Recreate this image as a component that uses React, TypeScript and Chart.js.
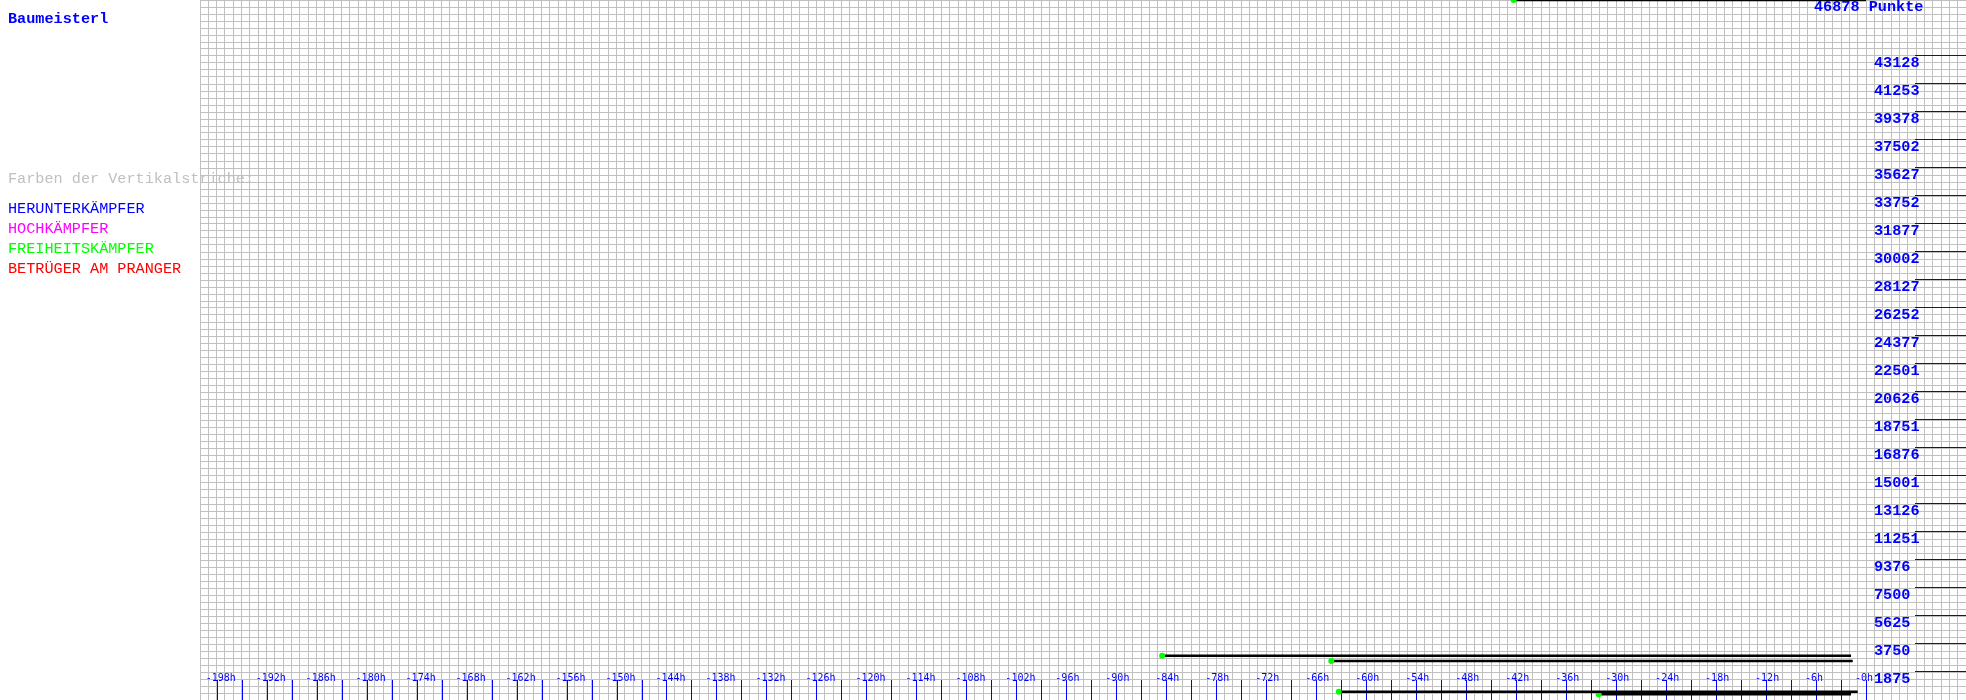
import React, { useEffect, useRef } from 'react';
import { Chart, registerables } from 'chart.js';

Chart.register(...registerables);

// ---- data ----
const pointsMax = 46878;
const hourMin = -200;
const hourMax = 12;

const xTickHours = [-198, -192, -186, -180, -174, -168, -162, -156, -150, -144, -138, -132, -126, -120, -114, -108, -102, -96, -90, -84, -78, -72, -66, -60, -54, -48, -42, -36, -30, -24, -18, -12, -6, 0];
const xTickLabels = ['-198h', '-192h', '-186h', '-180h', '-174h', '-168h', '-162h', '-156h', '-150h', '-144h', '-138h', '-132h', '-126h', '-120h', '-114h', '-108h', '-102h', '-96h', '-90h', '-84h', '-78h', '-72h', '-66h', '-60h', '-54h', '-48h', '-42h', '-36h', '-30h', '-24h', '-18h', '-12h', '-6h', '-0h'];
const xMarkStep = 3;

const yTickValues = [1875, 3750, 5625, 7500, 9376, 11251, 13126, 15001, 16876, 18751, 20626, 22501, 24377, 26252, 28127, 30002, 31877, 33752, 35627, 37502, 39378, 41253, 43128];

const segStartHours = [-42.3, -84.5, -64.2, -63.3, -32.1];
const segEndHours = [0, -1.8, -1.6, -1.0, -1.8];
const segValues = [46878, 2967, 2612, 556, 382];

const playerName = 'Baumeisterl';
const legendTitle = 'Farben der Vertikalstriche:';
const legendLabels = ['HERUNTERKÄMPFER', 'HOCHKÄMPFER', 'FREIHEITSKÄMPFER', 'BETRÜGER AM PRANGER'];
const legendColors = ['#0000ff', '#ff00ff', '#00ff00', '#ff0000'];
const topLabel = '46878 Punkte';

const BLUE = '#0000ff';
const GRID = '#c0c0c0';
const MONO = '"Liberation Mono", "DejaVu Sans Mono", monospace';
const TEXT_PX = 15.2;

const overlayPlugin = {
  id: 'overlay',
  beforeDatasetsDraw(chart: any) {
    const { ctx, chartArea, scales } = chart;
    const xs = scales.x;
    const ys = scales.y;
    ctx.save();
    // tick marks every 3h
    ctx.strokeStyle = BLUE;
    ctx.lineWidth = 1;
    for (let h = xTickHours[0]; h <= xTickHours[xTickHours.length - 1]; h += xMarkStep) {
      const px = Math.round(xs.getPixelForValue(h)) + 0.5;
      ctx.beginPath();
      ctx.moveTo(px, chartArea.bottom - 20);
      ctx.lineTo(px, chartArea.bottom);
      ctx.stroke();
    }
    // x labels
    ctx.fillStyle = BLUE;
    ctx.font = '10px "DejaVu Sans Mono", monospace';
    ctx.textAlign = 'left';
    ctx.textBaseline = 'alphabetic';
    xTickHours.forEach((h, i) => {
      ctx.fillText(xTickLabels[i], xs.getPixelForValue(h) - 11, chartArea.bottom - 19);
    });
    // y labels and right segments
    ctx.font = 'bold ' + TEXT_PX + 'px ' + MONO;
    yTickValues.forEach((v) => {
      const py = ys.getPixelForValue(v);
      const ly = Math.round(py) - 0.5;
      ctx.beginPath();
      ctx.moveTo(chartArea.right - 51, ly);
      ctx.lineTo(chartArea.right, ly);
      ctx.stroke();
      ctx.fillText(String(v), chartArea.right - 92, py + 11.3);
    });
    ctx.restore();
  },
  afterDraw(chart: any) {
    const { ctx, chartArea } = chart;
    ctx.save();
    ctx.textAlign = 'left';
    ctx.textBaseline = 'alphabetic';
    ctx.font = 'bold ' + TEXT_PX + 'px ' + MONO;
    ctx.fillStyle = BLUE;
    ctx.fillText(topLabel, chartArea.right - 152, 11);
    ctx.fillText(playerName, 8, 23);
    ctx.font = TEXT_PX + 'px ' + MONO;
    ctx.fillStyle = GRID;
    ctx.fillText(legendTitle, 8, 183);
    legendLabels.forEach((t, i) => {
      ctx.fillStyle = legendColors[i];
      ctx.fillText(t, 8, 213 + i * 20);
    });
    ctx.restore();
  },
};

export default function App() {
  const ref = useRef<HTMLCanvasElement>(null);
  useEffect(() => {
    document.body.style.margin = '0';
    document.body.style.overflow = 'hidden';
    const canvas = ref.current as HTMLCanvasElement;
    const datasets = segValues.map((v, i) => ({
      data: [
        { x: segStartHours[i], y: v },
        { x: segEndHours[i], y: v },
      ],
      borderColor: '#000000',
      borderWidth: 2.5,
      pointRadius: [3, 0],
      pointHoverRadius: 0,
      pointBackgroundColor: '#00ff00',
      pointBorderColor: '#00ff00',
      pointBorderWidth: 0,
      fill: false,
      tension: 0,
      clip: false,
    }));
    const chart = new Chart(canvas, {
      type: 'line',
      data: { datasets },
      options: {
        responsive: false,
        animation: false,
        devicePixelRatio: 1,
        events: [],
        layout: { autoPadding: false, padding: { left: 200, right: 0, top: 0, bottom: 0 } },
        plugins: { legend: { display: false }, tooltip: { enabled: false }, title: { display: false } },
        scales: {
          x: {
            type: 'linear',
            min: hourMin,
            max: hourMax,
            ticks: { display: false, stepSize: 1, autoSkip: false },
            grid: { color: GRID, lineWidth: 1, drawTicks: false },
            border: { display: false },
          },
          y: {
            type: 'linear',
            min: 0,
            max: pointsMax,
            display: false,
          },
          yGrid: {
            type: 'linear',
            position: 'left',
            min: 0,
            max: 100,
            ticks: { display: false, stepSize: 1 },
            grid: { color: GRID, lineWidth: 1, drawTicks: false },
            border: { display: false },
          },
        },
      } as any,
      plugins: [overlayPlugin],
    });
    return () => chart.destroy();
  }, []);
  return (
    <div style={{ width: 1966, height: 700 }}>
      <canvas ref={ref} width={1966} height={700} style={{ display: 'block' }} />
    </div>
  );
}
